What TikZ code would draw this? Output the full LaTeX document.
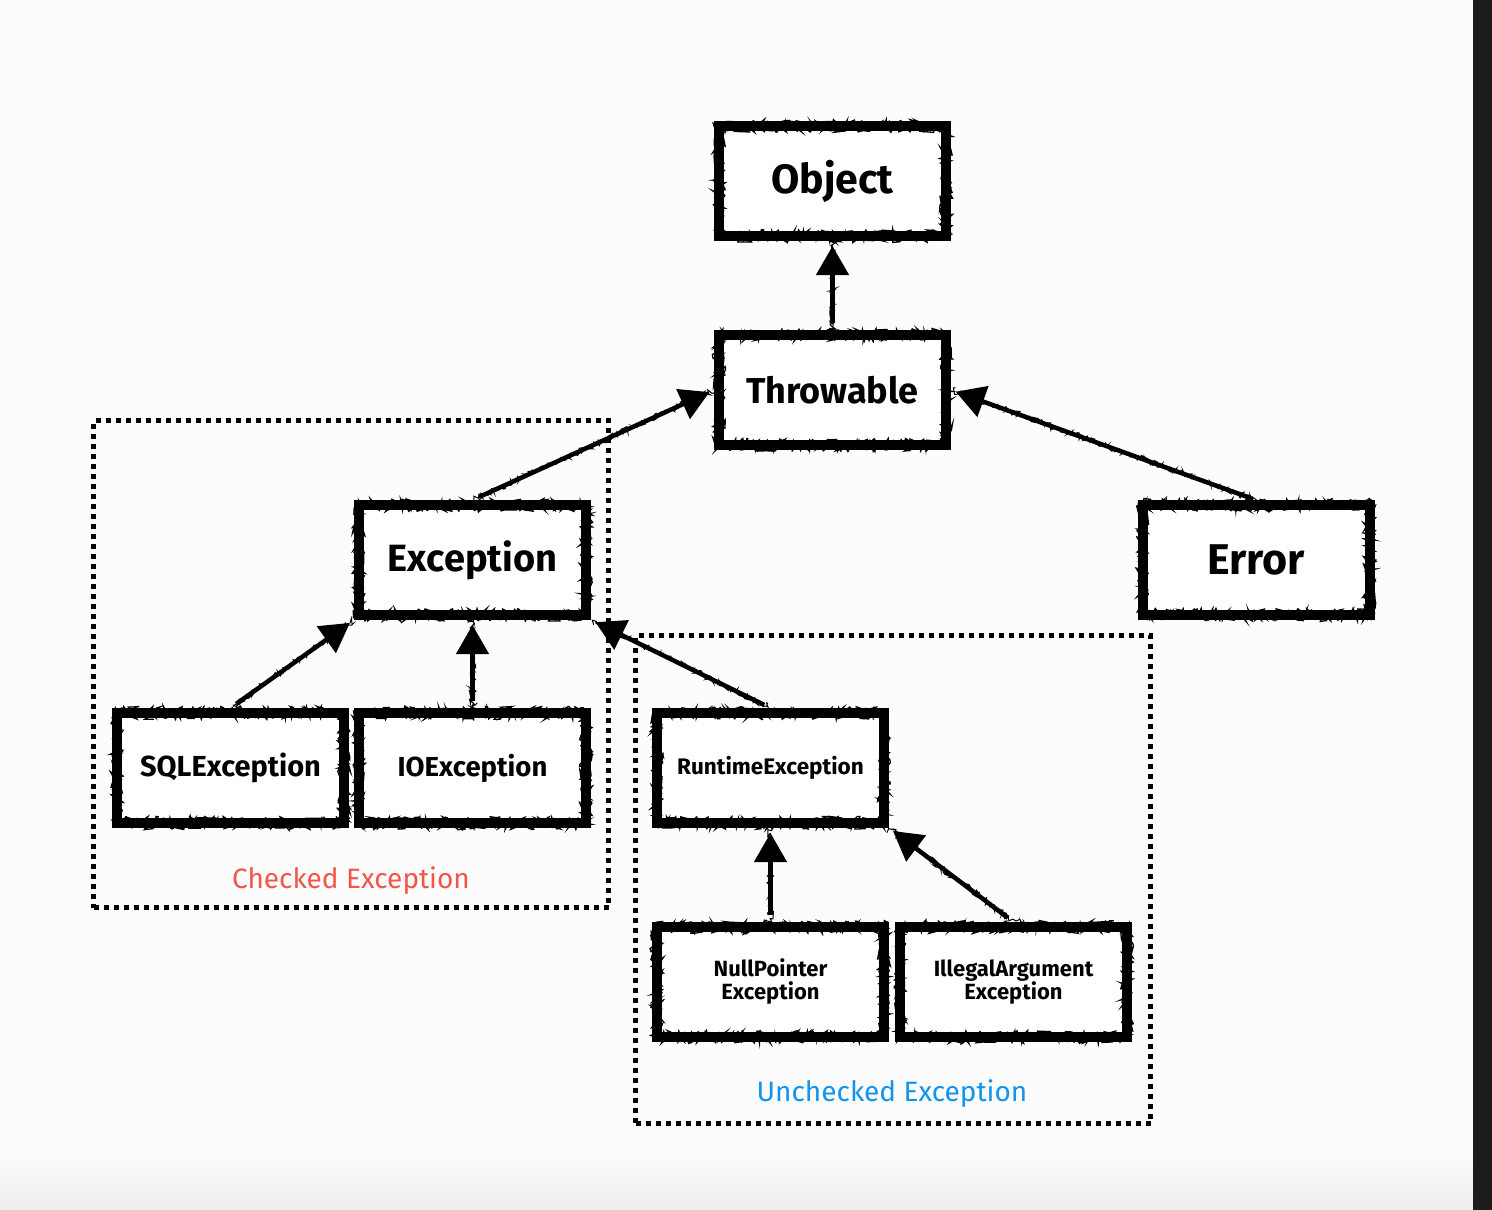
\documentclass[tikz,border=0pt]{standalone}
\usepackage{fontspec}
\setmainfont{Fira Sans}
\usetikzlibrary{arrows.meta,decorations.pathmorphing}
\definecolor{chkred}{RGB}{242,86,72}
\definecolor{unblue}{RGB}{16,148,240}
\definecolor{barblack}{RGB}{28,28,28}
\definecolor{bgwhite}{RGB}{252,252,252}
\definecolor{bggray}{RGB}{238,238,238}
\begin{document}
\begin{tikzpicture}[x=1pt,y=-1pt,
  cls/.style={draw=black, line width=10pt, fill=white, minimum width=227pt, minimum height=110pt,
    inner sep=0pt, align=center, font=\bfseries,
    postaction={draw=black, line width=1.3pt, decorate,
      decoration={random steps, segment length=1.3pt, amplitude=6.6pt}}},
  group/.style={draw=black, line width=5pt, dash pattern=on 5pt off 5pt, minimum width=515pt,
    inner sep=0pt},
  grouplabel/.style={font=\fontsize{28}{32}\selectfont, inner sep=0pt},
  arr/.style={line width=4.5pt, -{Triangle[width=32pt,length=29pt]}, shorten <=7pt, shorten >=5pt,
    postaction={draw=black, line width=1pt, -, decorate,
      decoration={random steps, segment length=1.5pt, amplitude=3.2pt}}}
]
\useasboundingbox (0,0) rectangle (1492,1210);
% background
\fill[bgwhite] (0,0) rectangle (1473,1210);
\shade[top color=bgwhite, bottom color=bggray] (0,1150) rectangle (1473,1210);
\fill[barblack] (1473,0) rectangle (1492,1210);

% groups
\node[group, minimum height=487pt] (checked) at (351,664) {};
\node[group, minimum height=488pt] (unchecked) at (893,879.5) {};
\node[grouplabel, text=chkred] (checkedlbl) at (351,881) {Checked Exception};
\node[grouplabel, text=unblue] (uncheckedlbl) at (892,1094) {Unchecked Exception};

% classes
\node[cls, font=\bfseries\fontsize{41}{44}\selectfont] (object) at (832.5,181) {Object};
\node[cls, font=\bfseries\fontsize{36}{40}\selectfont] (throwable) at (832.5,390) {Throwable};
\node[cls, font=\bfseries\fontsize{38}{42}\selectfont] (exception) at (472.5,560) {Exception};
\node[cls, font=\bfseries\fontsize{43}{46}\selectfont] (error) at (1256,560) {Error};
\node[cls, font=\bfseries\fontsize{29}{33}\selectfont] (sql) at (230.5,768) {SQLException};
\node[cls, font=\bfseries\fontsize{27.5}{32}\selectfont] (io) at (472.5,768) {IOException};
\node[cls, font=\bfseries\fontsize{22.5}{24}\selectfont] (runtime) at (770.5,768) {RuntimeException};
\node[cls, font=\bfseries\fontsize{22}{23}\selectfont] (npe) at (770.5,982) {NullPointer\\Exception};
\node[cls, font=\bfseries\fontsize{22}{23}\selectfont] (iae) at (1013.5,982) {IllegalArgument\\Exception};

% connectors
\draw[arr] (throwable.north) -- (object.south);
\draw[arr] (exception.north) -- (throwable.west);
\draw[arr] (error.north) -- (throwable.east);
\draw[arr] (sql.north) -- (exception.south west);
\draw[arr] (io.north) -- (exception.south);
\draw[arr] (runtime.north) -- (exception.south east);
\draw[arr] (npe.north) -- (runtime.south);
\draw[arr] (iae.north) -- (runtime.south east);
\end{tikzpicture}
\end{document}
